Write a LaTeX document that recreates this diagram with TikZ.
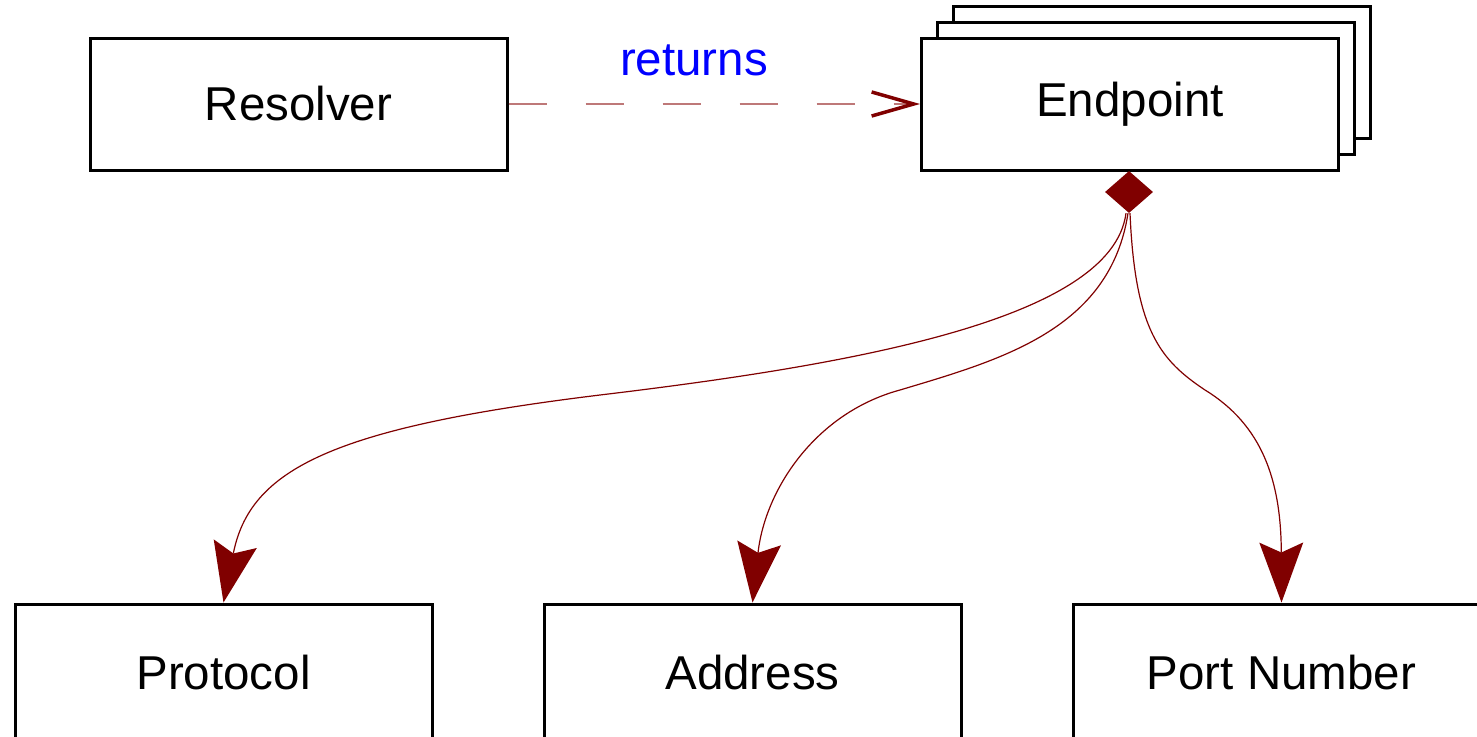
\documentclass[tikz,border=0pt]{standalone}
\usepackage{fontspec}
\setmainfont{Liberation Sans}
\usetikzlibrary{arrows.meta,shapes.geometric}
\definecolor{darkred}{RGB}{128,0,0}
\definecolor{dashred}{RGB}{190,120,120}
\begin{document}
\begin{tikzpicture}[x=1pt,y=-1pt,
  box/.style={draw=black,line width=3pt,fill=white,minimum width=417pt,minimum height=132pt,inner sep=0pt,font=\fontsize{47.5}{57}\selectfont},
  comp/.style={draw=darkred,line width=1.2pt,-{Stealth[length=60pt,width=44pt,inset=10pt,fill=darkred,line width=0pt]}},
  dep/.style={draw=dashred,line width=1.5pt,dash pattern=on 38pt off 39pt,-{Straight Barb[length=42pt,width=24pt,line width=3.5pt,color=darkred]}},
  lbl/.style={text=blue,font=\fontsize{47.5}{57}\selectfont,inner sep=0pt}
 ]
\useasboundingbox[fill=white] (0,0) rectangle (1477,736);
\node[box] (ep3) at (1162,72) {};
\node[box] (ep2) at (1146,88) {};
\node[box] (ep) at (1130,104) {Endpoint};
\node[box] (res) at (298.5,104) {Resolver};
\node[box,minimum height=138pt] (proto) at (223.5,673) {Protocol};
\node[box,minimum height=138pt] (addr) at (752.5,673) {Address};
\node[box,minimum height=138pt] (port) at (1281.5,673) {Port Number};
\node[diamond,fill=darkred,draw=none,inner sep=0pt,minimum width=48pt,minimum height=42pt] (dia) at (1129,192) {};
\node[lbl] (ret) at (694,60) {returns};
\draw[dep] (res.east) -- (ep.west);
\draw[comp] ([xshift=-3pt]dia.south) .. controls (1112,320) and (850,365) .. (600,395) .. controls (330,428) and (250,470) .. (proto.north);
\draw[comp] ([xshift=-1pt]dia.south) .. controls (1110,330) and (1000,360) .. (900,390) .. controls (815,413) and (765,490) .. (addr.north);
\draw[comp] ([xshift=1pt]dia.south) .. controls (1135,330) and (1160,360) .. (1205,390) .. controls (1262,425) and (1281,480) .. (port.north);
\end{tikzpicture}
\end{document}
